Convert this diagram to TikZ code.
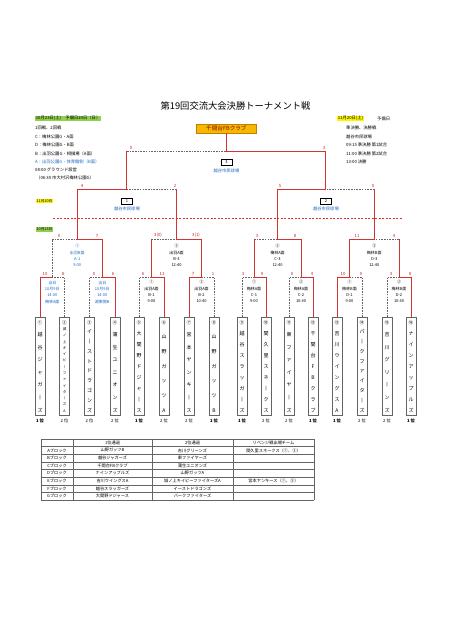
\documentclass[tikz,border=0pt]{standalone}
\usepackage{fontspec}
\setmainfont{Noto Sans CJK JP}
\definecolor{lred}{RGB}{214,50,50}
\definecolor{lgray}{RGB}{100,100,100}
\definecolor{lblue}{RGB}{30,105,195}
\definecolor{scorered}{RGB}{195,35,35}
\definecolor{hlgreen}{RGB}{146,208,80}
\definecolor{hlyellow}{RGB}{255,245,0}
\definecolor{champfill}{RGB}{246,184,0}
\definecolor{champdraw}{RGB}{190,130,0}
\newcommand{\fsz}[1]{\fontsize{#1}{#1}\selectfont}
\makeatletter
\newcommand{\vname}[3]{\vbox to 92pt{\fsz{#1}\hbox to 9pt{\hss{\fsz{4.6}#2}\hss}\@tfor\ch:=#3\do{\vfill\hbox to 9pt{\hss\ch\hss}}}}
\makeatother
\begin{document}
\begin{tikzpicture}[x=1pt,y=-1pt,
  win/.style={draw=lred,line width=0.95pt,line cap=rect},
  lose/.style={draw=lgray,line width=0.55pt,dash pattern=on 1.6pt off 1.1pt},
  scorelbl/.style={font=\fsz{4.3},text=scorered,inner sep=0pt,anchor=south},
  teambox/.style={draw=lgray,line width=0.45pt,minimum width=10pt,minimum height=98pt,inner sep=0pt,anchor=north},
  ranklbl/.style={font=\fsz{4.3},inner sep=0pt},
  rankone/.style={font=\fsz{4.3}\bfseries,inner sep=0pt},
  infotext/.style={font=\fsz{4.3},anchor=west,inner sep=0pt},
  mtext/.style={font=\fontsize{4}{6.3}\selectfont,align=center,inner sep=0pt,anchor=north},
  venuebox/.style={draw=black,line width=0.5pt,minimum width=11pt,minimum height=6pt,inner sep=0pt,font=\fsz{4}},
  venuetext/.style={font=\fsz{4.3},text=lblue,inner sep=0pt},
  tline/.style={draw=lgray,line width=0.4pt},
  celltext/.style={font=\fsz{4.2},inner sep=0pt}
]
\useasboundingbox (0,0) rectangle (452,640);
\fill[white] (0,0) rectangle (452,640);

% title and info
\node[font=\fsz{9.3}] (title) at (235.5,106) {第19回交流大会決勝トーナメント戦};
\node[infotext,fill=hlgreen,inner sep=0.6pt] (i0) at (35,118.5) {10月23日(土)　予備日24日（日）};
\node[infotext] (i1) at (35,128) {1回戦、2回戦};
\node[infotext] (i2) at (35,137) {C：梅林公園G・A面};
\node[infotext] (i3) at (35,145.3) {D：梅林公園G・B面};
\node[infotext] (i4) at (35,153.6) {B：出羽公園G・相撲場（A面）};
\node[infotext,text=lblue] (i5) at (35,162) {A：出羽公園G・体育館側（B面）};
\node[infotext] (i6) at (35,170.3) {08:00 グラウンド設営};
\node[infotext] (i7) at (36,177.6) {（06:30 市大村沢梅林公園G）};

\node[infotext,fill=hlyellow,inner sep=0.6pt] (j0) at (337,118.5) {11月20日(土)};
\node[infotext] (j0b) at (377,118.5) {予備日};
\node[infotext] (j1) at (346,128) {準決勝、決勝戦};
\node[infotext] (j2) at (346,137) {越谷市民球場};
\node[infotext] (j3) at (346,145.3) {09:15 準決勝 第1試合};
\node[infotext] (j4) at (346,153.6) {11:00 準決勝 第2試合};
\node[infotext] (j5) at (346,162) {13:00 決勝};

% champion
\node[draw=champdraw,fill=champfill,line width=0.5pt,minimum width=60pt,minimum height=9pt,inner sep=0pt,font=\fsz{5.6},text=red!55!black] (champ) at (226.4,128.5) {千間台FBクラブ};

% day labels and divider
\node[fill=hlyellow,font=\fsz{3.7},inner sep=0.7pt] (d1120) at (44.5,201) {11月20日};
\node[fill=hlgreen,font=\fsz{3.7},inner sep=0.7pt] (d1023) at (44.5,229.5) {10月23日};
\coordinate (dl) at (53,218);
\coordinate (dr) at (402,218);
\draw[lred,line width=0.6pt,dash pattern=on 2pt off 1.5pt] (dl) -- (dr);

% match coordinates
\coordinate (a1) at (52.25,277);
\coordinate (a2) at (102.25,277);
\coordinate (a3) at (151.5,277);
\coordinate (a4) at (201.5,277);
\coordinate (a5) at (254,277);
\coordinate (a6) at (301,277);
\coordinate (a7) at (349.5,277);
\coordinate (a8) at (399,277);
\coordinate (b1) at (77.25,239);
\coordinate (b2) at (176.5,239);
\coordinate (b3) at (277.5,239);
\coordinate (b4) at (374.25,239);
\coordinate (c1) at (126.9,189);
\coordinate (c2) at (325.9,189);
\coordinate (d) at (226.4,151);

% team boxes
\node[teambox] (t1) at (40,317) {\vname{5}{①}{越谷ジャガ丨ズ}};
\node[teambox] (t2) at (64.5,317) {\vname{3.5}{②}{城ノ上キイピ丨ファイタ丨ズA}};
\node[teambox] (t3) at (89.5,317) {\vname{5}{③}{イ丨ストドラゴンズ}};
\node[teambox] (t4) at (115,317) {\vname{5}{④}{蒲生ユニオンズ}};
\node[teambox] (t5) at (139,317) {\vname{5}{⑤}{大間野ドジャ丨ス}};
\node[teambox] (t6) at (164,317) {\vname{5}{⑥}{山野ガッツA}};
\node[teambox] (t7) at (189,317) {\vname{5}{⑦}{宮本ヤンキ丨ス}};
\node[teambox] (t8) at (214,317) {\vname{5}{⑧}{山野ガッツB}};
\node[teambox] (t9) at (242,317) {\vname{5}{⑨}{越谷スラッガ丨ズ}};
\node[teambox] (t10) at (266,317) {\vname{5}{⑩}{間久里スネ丨クス}};
\node[teambox] (t11) at (289,317) {\vname{5}{⑪}{東ファイヤ丨ズ}};
\node[teambox] (t12) at (313,317) {\vname{5}{⑫}{千間台FBクラブ}};
\node[teambox] (t13) at (337,317) {\vname{5}{⑬}{吉川ウイングスA}};
\node[teambox] (t14) at (362,317) {\vname{5}{⑭}{パ丨クファイタ丨ズ}};
\node[teambox] (t15) at (387,317) {\vname{5}{⑮}{吉川グリ丨ンズ}};
\node[teambox] (t16) at (411,317) {\vname{5}{⑯}{ナインアップルズ}};

% ranks
\node[rankone] (k1) at (40,421) {1 位};
\node[ranklbl] (k2) at (64.5,421) {2 位};
\node[ranklbl] (k3) at (89.5,421) {2 位};
\node[ranklbl] (k4) at (115,421) {2 位};
\node[rankone] (k5) at (139,421) {1 位};
\node[ranklbl] (k6) at (164,421) {2 位};
\node[ranklbl] (k7) at (189,421) {2 位};
\node[rankone] (k8) at (214,421) {1 位};
\node[rankone] (k9) at (242,421) {1 位};
\node[ranklbl] (k10) at (266,421) {2 位};
\node[ranklbl] (k11) at (289,421) {2 位};
\node[rankone] (k12) at (313,421) {1 位};
\node[rankone] (k13) at (337,421) {1 位};
\node[ranklbl] (k14) at (362,421) {2 位};
\node[ranklbl] (k15) at (387,421) {2 位};
\node[rankone] (k16) at (411,421) {1 位};

% round 1 connectors (losers first)
\draw[lose] (t2.north) |- (a1);
\draw[lose] (t3.north) |- (a2);
\draw[lose] (t5.north) |- (a3);
\draw[lose] (t8.north) |- (a4);
\draw[lose] (t9.north) |- (a5);
\draw[lose] (t11.north) |- (a6);
\draw[lose] (t14.north) |- (a7);
\draw[lose] (t15.north) |- (a8);
\draw[win] (t1.north) |- (a1);
\draw[win] (t4.north) |- (a2);
\draw[win] (t6.north) |- (a3);
\draw[win] (t7.north) |- (a4);
\draw[win] (t10.north) |- (a5);
\draw[win] (t12.north) |- (a6);
\draw[win] (t13.north) |- (a7);
\draw[win] (t16.north) |- (a8);

% round 2
\draw[lose] (a1) |- (b1);
\draw[lose] (a3 |- b2) -- (b2);
\draw[lose] (a5 |- b3) -- (b3);
\draw[lose] (a8 |- b4) -- (b4);
\draw[win] (a2) |- (b1);
\draw[win] (a3) -- (a3 |- b2);
\draw[win] (a4) |- (b2);
\draw[win] (a5) -- (a5 |- b3);
\draw[win] (a6) |- (b3);
\draw[win] (a7) |- (b4);
\draw[win] (a8) -- (a8 |- b4);

% semifinals
\draw[lose] (b2 |- c1) -- (c1);
\draw[lose] (b4 |- c2) -- (c2);
\draw[win] (b1) |- (c1);
\draw[win] (b2) -- (b2 |- c1);
\draw[win] (b3) |- (c2);
\draw[win] (b4) -- (b4 |- c2);

% final
\draw[lose] (c1 |- d) -- (d);
\draw[win] (c1) -- (c1 |- d);
\draw[win] (c2) |- (d);
\draw[win] (d) -- (champ.south);

% venue boxes
\node[venuebox] (v3) at (226.4,162.5) {3};
\node[venuetext] (vt3) at (226.4,170.8) {越谷市民球場};
\node[venuebox] (v1) at (126.9,201) {1};
\node[venuetext] (vt1) at (126.9,208.8) {越谷市民球場};
\node[venuebox] (v2) at (325.9,201) {2};
\node[venuetext] (vt2) at (325.9,208.8) {越谷市民球場};

% scores
\node[scorelbl] (sf1) at (131,149.6) {0};
\node[scorelbl] (sf2) at (324,149.6) {3};
\node[scorelbl] (ss1) at (82,187.6) {4};
\node[scorelbl] (ss2) at (175,187.6) {2};
\node[scorelbl] (ss3) at (280,187.6) {5};
\node[scorelbl] (ss4) at (373,187.6) {0};
\node[scorelbl] (sq1) at (59,237.6) {0};
\node[scorelbl] (sq2) at (97,237.6) {7};
\node[scorelbl] (sq3) at (158,237.6) {3(0)};
\node[scorelbl] (sq4) at (196,237.6) {3(1)};
\node[scorelbl] (sq5) at (257,237.6) {3};
\node[scorelbl] (sq6) at (295,237.6) {8};
\node[scorelbl] (sq7) at (357,237.6) {11};
\node[scorelbl] (sq8) at (394,237.6) {4};
\node[scorelbl] (sr1) at (45,275.6) {10};
\node[scorelbl] (sr2) at (63,275.6) {8};
\node[scorelbl] (sr3) at (94,275.6) {0};
\node[scorelbl] (sr4) at (113,275.6) {6};
\node[scorelbl] (sr5) at (143,275.6) {6};
\node[scorelbl] (sr6) at (162,275.6) {11};
\node[scorelbl] (sr7) at (193,275.6) {7};
\node[scorelbl] (sr8) at (213,275.6) {1};
\node[scorelbl] (sr9) at (243,275.6) {3};
\node[scorelbl] (sr10) at (262,275.6) {9};
\node[scorelbl] (sr11) at (292,275.6) {0};
\node[scorelbl] (sr12) at (312,275.6) {4};
\node[scorelbl] (sr13) at (343,275.6) {10};
\node[scorelbl] (sr14) at (361,275.6) {0};
\node[scorelbl] (sr15) at (391,275.6) {3};
\node[scorelbl] (sr16) at (410,275.6) {8};

% match texts
\node[mtext,text=lblue] (mq1) at (77.25,244.3) {①\\出羽B面\\A-1\\9:00};
\node[mtext] (mq2) at (176.5,244.3) {③\\出羽A面\\B-3\\12:40};
\node[mtext] (mq3) at (277.5,244.3) {③\\梅林A面\\C-3\\12:40};
\node[mtext] (mq4) at (374.25,244.3) {③\\梅林B面\\D-3\\12:40};
\node[mtext,text=lblue] (mr1) at (52.25,280.8) {当日\\10月9日\\14:00\\梅林A面};
\node[mtext,text=lblue] (mr2) at (102.25,280.8) {当日\\10月9日\\14:00\\湖東側B};
\node[mtext] (mr3) at (151.5,280.3) {①\\出羽A面\\B-1\\9:00};
\node[mtext] (mr4) at (201.5,280.3) {②\\出羽A面\\B-2\\10:40};
\node[mtext] (mr5) at (254,280.3) {①\\梅林A面\\C-1\\9:00};
\node[mtext] (mr6) at (301,280.3) {②\\梅林A面\\C-2\\10:40};
\node[mtext] (mr7) at (349.5,280.3) {①\\梅林B面\\D-1\\9:00};
\node[mtext] (mr8) at (399,280.3) {②\\梅林B面\\D-2\\10:40};

% table
\foreach \k in {0,...,8} \draw[tline] (41,{439+7.625*\k}) -- (314,{439+7.625*\k});
\foreach \xx in {41,73,152,233,314} \draw[tline] (\xx,439) -- (\xx,500);
\node[celltext] (h2) at (112.5,442.8) {1位通過};
\node[celltext] (h3) at (192.5,442.8) {2位通過};
\node[celltext] (h4) at (273.5,442.8) {リベンジ戦出場チーム};
\node[celltext] (rA) at (57,450.4) {Aブロック};
\node[celltext] (rB) at (57,458.1) {Bブロック};
\node[celltext] (rC) at (57,465.7) {Cブロック};
\node[celltext] (rD) at (57,473.3) {Dブロック};
\node[celltext] (rE) at (57,480.9) {Eブロック};
\node[celltext] (rF) at (57,488.6) {Fブロック};
\node[celltext] (rG) at (57,496.2) {Gブロック};
\node[celltext] (fA) at (112.5,450.4) {山野ガッツB};
\node[celltext] (fB) at (112.5,458.1) {越谷ジャガーズ};
\node[celltext] (fC) at (112.5,465.7) {千間台FBクラブ};
\node[celltext] (fD) at (112.5,473.3) {ナインアップルズ};
\node[celltext] (fE) at (112.5,480.9) {吉川ウイングスA};
\node[celltext] (fF) at (112.5,488.6) {越谷スラッガーズ};
\node[celltext] (fG) at (112.5,496.2) {大間野ドジャース};
\node[celltext] (gA) at (192.5,450.4) {吉川グリーンズ};
\node[celltext] (gB) at (192.5,458.1) {東ファイヤーズ};
\node[celltext] (gC) at (192.5,465.7) {蒲生ユニオンズ};
\node[celltext] (gD) at (192.5,473.3) {山野ガッツA};
\node[celltext] (gE) at (192.5,480.9) {城ノ上キイピーファイターズA};
\node[celltext] (gF) at (192.5,488.6) {イーストドラゴンズ};
\node[celltext] (gG) at (192.5,496.2) {パークファイターズ};
\node[celltext] (xA) at (273.5,450.4) {間久里スネークス（①、③）};
\node[celltext] (xE) at (273.5,480.9) {宮本ヤンキース（①、③）};
\end{tikzpicture}
\end{document}
